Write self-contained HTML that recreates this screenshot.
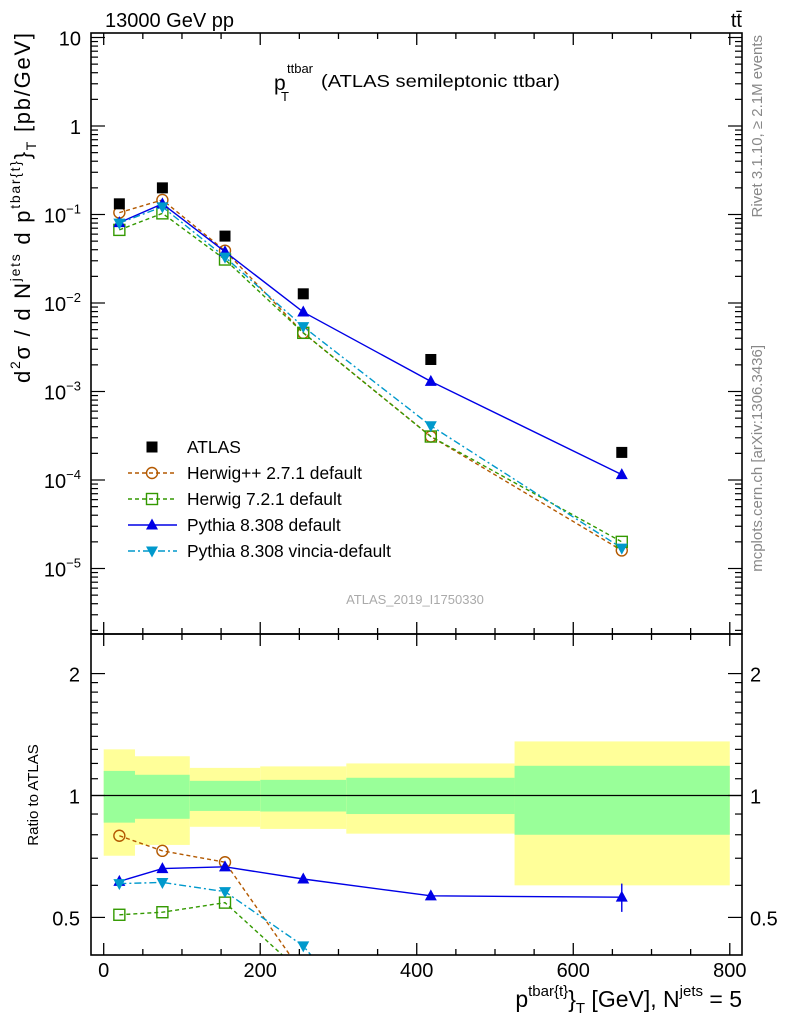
<!DOCTYPE html>
<html><head><meta charset="utf-8"><style>
html,body{margin:0;padding:0;background:#fff;width:786px;height:1024px;overflow:hidden}
svg{display:block;overflow:hidden;font-family:"Liberation Sans",Arial,sans-serif}
</style></head><body>
<svg id="chart" width="786" height="1024" viewBox="0 0 786 1024">
<defs>
<clipPath id="clipTop"><rect x="91" y="33" width="651" height="601"/></clipPath>
<clipPath id="clipBot"><rect x="91" y="634" width="651" height="321"/></clipPath>
</defs>
<g id="bands" clip-path="url(#clipBot)"></g>
<g id="marks"></g>
<g id="axes"></g>
<text x="105" y="27" font-size="20">13000 GeV pp</text>
<text x="742" y="27" font-size="20" text-anchor="end">tt̄</text>
<g>
<text x="274" y="90" font-size="21">p</text>
<text x="287" y="73" font-size="13">ttbar</text>
<text x="281" y="101" font-size="13">T</text>
<text x="321" y="87" font-size="17.5" textLength="239" lengthAdjust="spacingAndGlyphs">(ATLAS semileptonic ttbar)</text>
</g>
<text x="415" y="604" font-size="13" fill="#aaa" text-anchor="middle">ATLAS_2019_I1750330</text>
<text transform="translate(762,35) rotate(-90)" font-size="15" fill="#888" text-anchor="end">Rivet 3.1.10, ≥ 2.1M events</text>
<text transform="translate(762,345) rotate(-90)" font-size="15" fill="#888" text-anchor="end">mcplots.cern.ch [arXiv:1306.3436]</text>
<text transform="translate(30,383) rotate(-90)" font-size="22" textLength="350" lengthAdjust="spacing">d<tspan font-size="14" dy="-10">2</tspan><tspan dy="10">σ / d N</tspan><tspan font-size="14" dy="-10">jets</tspan><tspan dy="10"> d p</tspan><tspan font-size="14" dy="-10">tbar{t}</tspan><tspan dy="10">}</tspan><tspan font-size="14" dy="6">T</tspan><tspan dy="-6"> [pb/GeV]</tspan></text>
<text transform="translate(38,795) rotate(-90)" font-size="15" text-anchor="middle">Ratio to ATLAS</text>
<text x="742" y="1007" font-size="23" text-anchor="end">p<tspan font-size="15" dy="-11">tbar{t}</tspan><tspan dy="11">}</tspan><tspan font-size="15" dy="6">T</tspan><tspan dy="-6"> [GeV], N</tspan><tspan font-size="15" dy="-11">jets</tspan><tspan dy="11"> = 5</tspan></text>
<g id="legend"></g>
</svg>
<script>
const xCenters=[20,75,155,255,418,662];
const binEdges=[0,40,110,200,310,525,800];
const atlasVals=[0.132,0.200,0.057,0.0127,0.0023,0.000205];
const herwigppVals=[0.105,0.146,0.039,0.0046,0.00031,0.000016];
const herwig7Vals=[0.067,0.103,0.031,0.0046,0.00031,0.000020];
const pythiaVals=[0.081,0.132,0.038,0.0079,0.00130,0.000115];
const vinciaVals=[0.080,0.122,0.033,0.0054,0.00041,0.000017];
const pythiaRatioErr=[0,0,0,0,0.012,0.045];
const bandTotUp=[1.30,1.25,1.17,1.18,1.20,1.36];
const bandStatUp=[1.15,1.125,1.087,1.093,1.106,1.184];
const bandStatDn=[0.857,0.876,0.916,0.913,0.90,0.80];
const bandTotDn=[0.71,0.755,0.837,0.827,0.805,0.60];
const xTicks=[0,200,400,600,800];
const ratioTicks=[0.5,1,2];

const NS="http://www.w3.org/2000/svg";
const X=v=>103.7+v*0.7826;
const YT=v=>126-88.5*Math.log10(v);
const YR=r=>795.5-405*Math.log10(r);
function el(tag,attrs,parent){const e=document.createElementNS(NS,tag);for(const k in attrs)e.setAttribute(k,attrs[k]);parent.appendChild(e);return e;}
const bands=document.getElementById('bands'),marks=document.getElementById('marks'),axes=document.getElementById('axes'),legend=document.getElementById('legend');

for(let i=0;i<6;i++){
  const x0=X(binEdges[i]),x1=X(binEdges[i+1]);
  const y=el('rect',{x:x0,y:YR(bandTotUp[i]),width:x1-x0,height:YR(bandTotDn[i])-YR(bandTotUp[i]),fill:'#ffff99'},bands);
  
  
  const g=el('rect',{x:x0,y:YR(bandStatUp[i]),width:x1-x0,height:YR(bandStatDn[i])-YR(bandStatUp[i]),fill:'#99ff99'},bands);
  
  
}
const one=el('line',{x1:91,x2:742,y1:YR(1),y2:YR(1),stroke:'#000','stroke-width':1.3},marks);



function marker(type,cx,cy,color,parent){
  let m;
  if(type==='circle')m=el('circle',{cx,cy,r:5.5,fill:'none',stroke:color,'stroke-width':1.4},parent);
  else if(type==='square')m=el('rect',{x:cx-5.5,y:cy-5.5,width:11,height:11,fill:'none',stroke:color,'stroke-width':1.4},parent);
  else if(type==='up')m=el('polygon',{points:`${cx},${cy-6.5} ${cx-6},${cy+4.5} ${cx+6},${cy+4.5}`,fill:color},parent);
  else if(type==='down')m=el('polygon',{points:`${cx},${cy+6.5} ${cx-6},${cy-4.5} ${cx+6},${cy-4.5}`,fill:color},parent);
  else m=el('rect',{x:cx-5.5,y:cy-5.5,width:11,height:11,fill:color},parent);
  return m;
}
const series=[
 {name:'herwigpp',vals:herwigppVals,color:'#b35900',dash:'4,3',m:'circle'},
 {name:'herwig7',vals:herwig7Vals,color:'#339900',dash:'4,3',m:'square'},
 {name:'pythia',vals:pythiaVals,color:'#0000e6',dash:'',m:'up'},
 {name:'vincia',vals:vinciaVals,color:'#0099cc',dash:'7,3,2,3',m:'down'}];
const gT=el('g',{'clip-path':'url(#clipTop)'},marks),gB=el('g',{'clip-path':'url(#clipBot)'},marks);
series.forEach(s=>{
  const ptsT=s.vals.map((v,i)=>X(xCenters[i])+','+YT(v)).join(' ');
  const pl=el('polyline',{points:ptsT,fill:'none',stroke:s.color,'stroke-width':1.4,'stroke-dasharray':s.dash},gT);
  
  
  const ptsB=s.vals.map((v,i)=>X(xCenters[i])+','+YR(v/atlasVals[i])).join(' ');
  const pr=el('polyline',{points:ptsB,fill:'none',stroke:s.color,'stroke-width':1.4,'stroke-dasharray':s.dash},gB);
  
  
  s.vals.forEach((v,i)=>{
    const m=marker(s.m,X(xCenters[i]),YT(v),s.color,gT);
    
    
    const r=v/atlasVals[i];
    if(s.name==='pythia'&&pythiaRatioErr[i]>0){
      const e=el('line',{x1:X(xCenters[i]),x2:X(xCenters[i]),y1:YR(r+pythiaRatioErr[i]),y2:YR(r-pythiaRatioErr[i]),stroke:s.color,'stroke-width':1.4},gB);
      
      
    }
    const mr=marker(s.m,X(xCenters[i]),YR(r),s.color,gB);
    
    
  });
});
atlasVals.forEach((v,i)=>{
  const m=marker('sq',X(xCenters[i]),YT(v),'#000',gT);
  
  
});

[[33,634],[634,955]].forEach(([t,b])=>{
  const f=el('rect',{x:91,y:t,width:651,height:b-t,fill:'none',stroke:'#000','stroke-width':1.6},axes);
  
  
});
for(let v=0;v<=800;v+=50){
  const maj=v%200===0,L=maj?12:6,x=X(v);
  [[33,1],[634,-1],[634,1],[955,-1]].forEach(([y,d])=>el('line',{x1:x,x2:x,y1:y,y2:y+d*L,stroke:'#000','stroke-width':1.3},axes));
}
xTicks.forEach(v=>{const t=el('text',{x:X(v),y:977,'font-size':20,'text-anchor':'middle'},axes);t.textContent=v;
  
  });
for(let e=-6;e<=1;e++){
  for(let k=1;k<10;k++){
    const v=k*Math.pow(10,e),y=YT(v);
    if(y<33||y>634)continue;
    const L=k===1?14:7;
    el('line',{x1:91,x2:91+L,y1:y,y2:y,stroke:'#000','stroke-width':1.2},axes);
    el('line',{x1:742,x2:742-L,y1:y,y2:y,stroke:'#000','stroke-width':1.2},axes);
  }
}
const ylab=[[1,'10',null],[0,'1',null],[-1,'10','−1'],[-2,'10','−2'],[-3,'10','−3'],[-4,'10','−4'],[-5,'10','−5']];
ylab.forEach(([e,b,s])=>{
  const t=el('text',{x:81,y:YT(Math.pow(10,e))+8,'font-size':20,'text-anchor':'end'},axes);
  t.textContent=b;
  if(s){const ts=el('tspan',{'font-size':13,dy:-9},t);ts.textContent=s;}
  
  
});
[0.2,0.3,0.4,0.5,0.6,0.7,0.8,0.9,1,1.1,1.2,1.3,1.4,1.5,1.6,1.7,1.8,1.9,2,3].forEach(r=>{
  const y=YR(r);if(y<634||y>955)return;
  const L=(r===0.5||r===1||r===2)?14:7;
  el('line',{x1:91,x2:91+L,y1:y,y2:y,stroke:'#000','stroke-width':1.2},axes);
  el('line',{x1:742,x2:742-L,y1:y,y2:y,stroke:'#000','stroke-width':1.2},axes);
});
ratioTicks.forEach(r=>{
  const a=el('text',{x:80,y:YR(r)+8,'font-size':20,'text-anchor':'end'},axes);a.textContent=r;
  
  
  const b=el('text',{x:750,y:YR(r)+8,'font-size':20},axes);b.textContent=r;
  
  
});
const legItems=[['ATLAS','sq','#000',''],['Herwig++ 2.7.1 default','circle','#b35900','4,3'],['Herwig 7.2.1 default','square','#339900','4,3'],['Pythia 8.308 default','up','#0000e6',''],['Pythia 8.308 vincia-default','down','#0099cc','7,3,2,3']];
legItems.forEach(([lab,m,c,d],i)=>{
  const y=447+i*26;
  const g=el('g',{},legend);
  
  
  if(i>0)el('line',{x1:128,x2:177,y1:y,y2:y,stroke:c,'stroke-width':1.4,'stroke-dasharray':d},g);
  marker(m,152,y,c,g);
  const t=el('text',{x:187,y:y+6,'font-size':17.4},g);t.textContent=lab;
});
</script>
</body></html>
